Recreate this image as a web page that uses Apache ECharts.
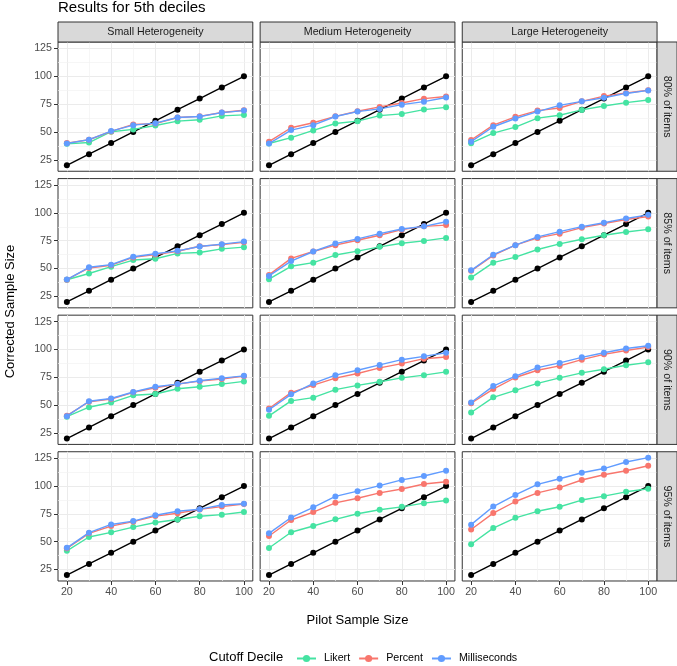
<!DOCTYPE html>
<html>
<head>
<meta charset="utf-8">
<script src="https://cdn.jsdelivr.net/npm/echarts@6/dist/echarts.min.js"></script>
<style>html,body{margin:0;padding:0;background:#fff;}#chart{width:677px;height:666px;}</style>
</head>
<body>
<div id="chart"></div>
<script>
const pilotSizes = [20, 30, 40, 50, 60, 70, 80, 90, 100];
const uncorrected = [20, 30, 40, 50, 60, 70, 80, 90, 100];
const heterogeneity = ['Small Heterogeneity', 'Medium Heterogeneity', 'Large Heterogeneity'];
const itemCutoffs = ['80% of items', '85% of items', '90% of items', '95% of items'];
const deciles = ['Likert', 'Percent', 'Milliseconds'];
const majorXTicks = [20, 40, 60, 80, 100];
const minorXTicks = [30, 50, 70, 90];
const majorYTicks = [25, 50, 75, 100, 125];
const minorYTicks = [37.5, 62.5, 87.5, 112.5];

// [small, medium, large] per cutoff row
const likert80 = [
  [39.3, 40.5, 50.2, 52.3, 55.8, 59.7, 60.9, 64.4, 65.3],
  [39.6, 44.9, 51.4, 57.6, 59.7, 64.7, 66.2, 70.1, 72.1],
  [39.9, 49.0, 54.4, 62.4, 65.0, 69.8, 73.3, 76.3, 78.7]
];
const percent80 = [
  [40.0, 43.0, 50.5, 56.8, 57.5, 63.0, 64.0, 67.5, 69.5],
  [41.3, 53.8, 58.3, 64.0, 68.6, 72.5, 76.0, 79.9, 81.9],
  [42.8, 56.1, 63.6, 69.2, 71.5, 77.5, 82.2, 85.0, 87.5]
];
const ms80 = [
  [39.6, 43.1, 50.8, 56.1, 57.9, 63.0, 63.9, 67.4, 69.2],
  [39.6, 51.7, 56.1, 63.9, 68.3, 70.7, 74.5, 77.2, 81.0],
  [41.3, 54.7, 62.1, 68.3, 73.9, 77.5, 80.7, 84.6, 87.3]
];
const likert85 = [
  [39.9, 45.5, 51.7, 57.6, 58.8, 63.6, 64.4, 67.7, 69.2],
  [40.4, 52.0, 55.3, 62.1, 65.6, 69.5, 72.7, 74.8, 77.5],
  [41.9, 55.3, 60.3, 67.1, 72.1, 76.3, 79.9, 82.8, 85.2]
];
const percent85 = [
  [40.0, 50.5, 53.0, 60.0, 62.5, 65.5, 70.0, 71.5, 73.5],
  [44.3, 59.1, 65.3, 71.0, 75.4, 79.9, 84.9, 87.9, 89.0],
  [47.9, 61.8, 71.0, 77.5, 81.3, 86.7, 90.5, 94.1, 96.7]
];
const ms85 = [
  [40.1, 51.1, 53.5, 60.6, 63.3, 65.9, 69.8, 71.9, 74.2],
  [43.4, 56.7, 65.3, 72.4, 76.6, 81.3, 85.5, 87.9, 92.0],
  [48.4, 62.4, 71.0, 78.4, 83.1, 87.6, 91.1, 95.0, 98.2]
];
const likert90 = [
  [39.6, 48.1, 52.3, 58.8, 60.0, 64.7, 66.5, 68.9, 71.3],
  [40.4, 53.8, 56.7, 63.9, 67.7, 71.0, 74.5, 76.9, 79.9],
  [43.4, 57.0, 63.3, 69.5, 74.5, 79.0, 82.2, 85.8, 88.4]
];
const percent90 = [
  [40.5, 53.0, 55.5, 61.5, 65.5, 69.0, 71.5, 73.5, 76.0],
  [47.0, 61.2, 68.0, 74.2, 78.4, 83.4, 87.3, 91.7, 93.2],
  [51.7, 64.4, 74.8, 81.3, 85.2, 90.8, 95.6, 99.1, 102.1]
];
const ms90 = [
  [40.1, 53.5, 55.9, 61.8, 66.5, 68.9, 71.9, 74.2, 76.3],
  [45.8, 59.7, 69.5, 76.9, 81.3, 86.1, 90.8, 93.8, 97.0],
  [52.3, 67.1, 76.0, 83.7, 87.9, 92.9, 97.0, 100.9, 103.3]
];
const likert95 = [
  [41.8, 54.2, 58.4, 63.1, 67.2, 69.9, 72.8, 74.3, 76.7],
  [44.3, 58.5, 64.1, 70.1, 75.1, 78.7, 81.3, 84.6, 87.0],
  [47.7, 62.2, 71.4, 77.3, 81.4, 87.4, 90.9, 94.8, 97.5]
];
const percent95 = [
  [44.0, 57.5, 64.0, 68.0, 73.0, 75.5, 79.0, 81.5, 83.8],
  [55.1, 69.5, 76.6, 84.9, 89.0, 93.8, 97.3, 101.8, 103.9],
  [60.9, 75.7, 86.1, 93.8, 98.6, 105.4, 110.1, 113.7, 118.2]
];
const ms95 = [
  [44.5, 58.1, 65.5, 68.5, 73.8, 77.4, 79.2, 83.0, 84.1],
  [57.5, 71.7, 80.9, 90.7, 95.4, 100.4, 105.5, 109.0, 113.8],
  [65.3, 81.6, 92.0, 101.5, 106.5, 111.9, 115.7, 121.6, 125.5]
];

const rowsData = [
  [likert80, percent80, ms80],
  [likert85, percent85, ms85],
  [likert90, percent90, ms90],
  [likert95, percent95, ms95]
];
const colors = ['#45E3A2', '#F8766D', '#619CFF'];

const FONT = '"Liberation Sans", Arial, Helvetica, sans-serif';
const PL = 58, PT = 42, PW = 194.8, PH = 129.25, GAP = 7.33, STRIP = 20;
const X_MIN = 16, X_MAX = 104, Y_MIN = 14.7, Y_MAX = 130.8;

const grids = [], xAxes = [], yAxes = [], series = [], graphics = [];
const pairs = (ys) => pilotSizes.map((x, i) => [x, ys[i]]);

for (let r = 0; r < 4; r++) {
  for (let c = 0; c < 3; c++) {
    const idx = r * 3 + c;
    const left = PL + c * (PW + GAP);
    const top = PT + r * (PH + GAP);
    grids.push({ left: left, top: top, width: PW, height: PH, show: true,
      borderColor: '#333333', borderWidth: 1, backgroundColor: '#ffffff', containLabel: false });
    const bottomRow = r === 3, leftCol = c === 0;
    xAxes.push({ type: 'value', gridIndex: idx, min: X_MIN, max: X_MAX,
      axisLine: { show: false },
      axisTick: { show: bottomRow, customValues: majorXTicks, length: 4, lineStyle: { color: '#333333' } },
      axisLabel: { show: bottomRow, customValues: majorXTicks, margin: 6, color: '#4D4D4D', fontSize: 10.7, fontFamily: FONT },
      splitLine: { show: true, lineStyle: { color: '#EBEBEB', width: 1 } },
      minorSplitLine: { show: false } });
    yAxes.push({ type: 'value', gridIndex: idx, min: Y_MIN, max: Y_MAX,
      axisLine: { show: false },
      axisTick: { show: leftCol, customValues: majorYTicks, length: 4, lineStyle: { color: '#333333' } },
      axisLabel: { show: leftCol, customValues: majorYTicks, margin: 6, color: '#4D4D4D', fontSize: 10.7, fontFamily: FONT },
      splitLine: { show: true, lineStyle: { color: '#EBEBEB', width: 1 } } });

    // minor grid lines through the axis scales
    series.push({ type: 'line', xAxisIndex: idx, yAxisIndex: idx, data: [], silent: true, z: 1,
      markLine: { silent: true, z: 1, zlevel: 0, symbol: ['none', 'none'], animation: false, label: { show: false },
        emphasis: { disabled: true },
        lineStyle: { color: '#F2F2F2', width: 0.7, type: 'solid' },
        data: minorYTicks.map(v => ({ yAxis: v })).concat(minorXTicks.map(v => ({ xAxis: v }))) } });

    series.push({ type: 'line', name: 'Uncorrected', xAxisIndex: idx, yAxisIndex: idx, data: pairs(uncorrected),
      symbol: 'circle', symbolSize: 6, z: 3, itemStyle: { color: '#000000' }, lineStyle: { color: '#000000', width: 1.4 } });
    for (let k = 0; k < 3; k++) {
      series.push({ type: 'line', name: deciles[k], xAxisIndex: idx, yAxisIndex: idx, data: pairs(rowsData[r][k][c]),
        symbol: 'circle', symbolSize: 6, z: 4 + k, itemStyle: { color: colors[k] }, lineStyle: { color: colors[k], width: 1.4 } });
    }
  }
}

// top strips
for (let c = 0; c < 3; c++) {
  const left = PL + c * (PW + GAP);
  graphics.push({ type: 'rect', shape: { x: left, y: PT - STRIP, width: PW, height: STRIP },
    style: { fill: '#D9D9D9', stroke: '#333333', lineWidth: 1 }, z: 10 });
  graphics.push({ type: 'text', x: left + PW / 2, y: PT - STRIP / 2, z: 11,
    style: { text: heterogeneity[c], fill: '#1A1A1A', fontSize: 10.7, fontFamily: FONT, align: 'center', verticalAlign: 'middle' } });
}
// right strips
for (let r = 0; r < 4; r++) {
  const top = PT + r * (PH + GAP);
  const x0 = PL + 3 * PW + 2 * GAP;
  graphics.push({ type: 'rect', shape: { x: x0, y: top, width: STRIP, height: PH },
    style: { fill: '#D9D9D9', stroke: '#333333', lineWidth: 1 }, z: 10 });
  graphics.push({ type: 'text', x: x0 + STRIP / 2, y: top + PH / 2, rotation: -Math.PI / 2, z: 11,
    style: { text: itemCutoffs[r], fill: '#1A1A1A', fontSize: 10.7, fontFamily: FONT, align: 'center', verticalAlign: 'middle' } });
}
// titles
graphics.push({ type: 'text', x: PL, y: 7.5, style: { text: 'Results for 5th deciles', fill: '#000000', fontSize: 15, fontFamily: FONT, align: 'left', verticalAlign: 'middle' } });
graphics.push({ type: 'text', x: 10, y: PT + (4 * PH + 3 * GAP) / 2, rotation: Math.PI / 2,
  style: { text: 'Corrected Sample Size', fill: '#000000', fontSize: 13, fontFamily: FONT, align: 'center', verticalAlign: 'middle' } });
graphics.push({ type: 'text', x: PL + (3 * PW + 2 * GAP) / 2, y: 620,
  style: { text: 'Pilot Sample Size', fill: '#000000', fontSize: 13, fontFamily: FONT, align: 'center', verticalAlign: 'middle' } });
graphics.push({ type: 'text', x: 209, y: 657,
  style: { text: 'Cutoff Decile', fill: '#000000', fontSize: 13, fontFamily: FONT, align: 'left', verticalAlign: 'middle' } });

const chart = echarts.init(document.getElementById('chart'), null, { renderer: 'canvas' });
chart.setOption({
  animation: false,
  backgroundColor: '#ffffff',
  grid: grids,
  xAxis: xAxes,
  yAxis: yAxes,
  series: series,
  graphic: graphics,
  legend: {
    data: deciles, left: 291, top: 648, itemWidth: 19, itemHeight: 9, itemGap: 8,
    textStyle: { color: '#000000', fontSize: 10.7, fontFamily: FONT, padding: [0, 0, 0, 3] },
    selectedMode: false
  }
});
</script>
</body>
</html>
